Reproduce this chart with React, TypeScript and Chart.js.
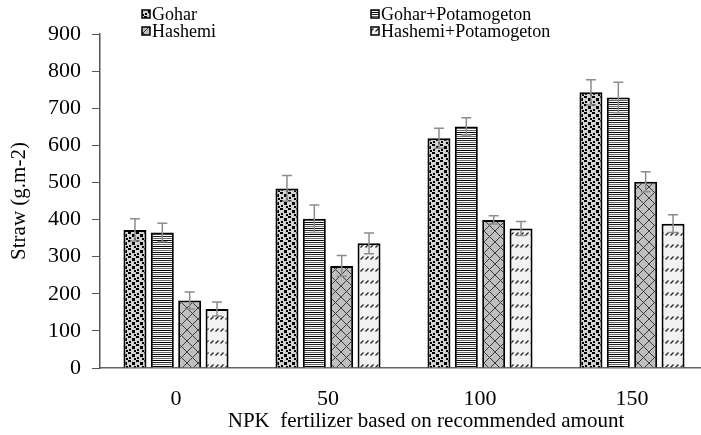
import React, { useEffect, useRef } from "react";
import { Chart, registerables } from "chart.js";

Chart.register(...registerables);

const categories = ["0", "50", "100", "150"];
const seriesNames = ["Gohar", "Gohar+Potamogeton", "Hashemi", "Hashemi+Potamogeton"];
const gohar = [372, 484, 619, 743];
const goharPot = [365, 402, 651, 729];
const hashemi = [182, 275, 399, 502];
const hashemiPot = [159, 336, 376, 389];
const goharErr = [30, 35, 27, 34];
const goharPotErr = [25, 37, 23, 41];
const hashemiErr = [23, 28, 11, 27];
const hashemiPotErr = [19, 28, 19, 24];
const yTicks = [0, 100, 200, 300, 400, 500, 600, 700, 800, 900];
const xTitle = "NPK  fertilizer based on recommended amount";
const yTitle = "Straw (g.m-2)";

const FONT = '"Liberation Serif", "Times New Roman", serif';

function makeTile(w: number, h: number, draw: (c: CanvasRenderingContext2D) => void) {
  const cv = document.createElement("canvas");
  cv.width = w;
  cv.height = h;
  const c = cv.getContext("2d")!;
  draw(c);
  return cv;
}

function makePatterns(ctx: CanvasRenderingContext2D): CanvasPattern[] {
  const confetti = makeTile(8, 8, (c) => {
    c.fillStyle = "#d2d2d2";
    c.fillRect(0, 0, 8, 8);
    c.fillStyle = "#000";
    c.fillRect(0, 0, 3, 2);
    c.fillRect(4, 2, 3, 3);
    c.fillRect(1, 5, 2, 2);
    c.fillRect(6, 6, 2, 2);
  });
  const horiz = makeTile(4, 6, (c) => {
    c.fillStyle = "#fff";
    c.fillRect(0, 0, 4, 6);
    c.fillStyle = "#000";
    c.fillRect(0, 0, 4, 1);
    c.fillStyle = "#222";
    c.fillRect(0, 2, 4, 1);
    c.fillStyle = "#666";
    c.fillRect(0, 4, 4, 1);
  });
  const lattice = makeTile(11, 11, (c) => {
    c.fillStyle = "#bfbfbf";
    c.fillRect(0, 0, 11, 11);
    c.strokeStyle = "#3a3a3a";
    c.lineWidth = 1;
    c.beginPath();
    c.moveTo(-1, -1);
    c.lineTo(12, 12);
    c.moveTo(12, -1);
    c.lineTo(-1, 12);
    c.stroke();
  });
  const dashes = makeTile(5, 12, (c) => {
    c.fillStyle = "#f2f2f2";
    c.fillRect(0, 0, 5, 12);
    c.strokeStyle = "#222";
    c.lineWidth = 1.2;
    c.beginPath();
    c.moveTo(0.5, 7.5);
    c.lineTo(3.5, 4.5);
    c.stroke();
  });
  return [confetti, horiz, lattice, dashes].map((t) => ctx.createPattern(t, "repeat")!);
}

const errorBarPlugin = {
  id: "errorBars",
  afterDatasetsDraw(chart: any) {
    const ctx = chart.ctx;
    const yScale = chart.scales.y;
    ctx.save();
    ctx.strokeStyle = "#8c8c8c";
    ctx.lineWidth = 1.5;
    chart.data.datasets.forEach((ds: any, i: number) => {
      const meta = chart.getDatasetMeta(i);
      meta.data.forEach((el: any, j: number) => {
        const v = ds.data[j];
        const e = ds.errors[j];
        const yT = yScale.getPixelForValue(v + e);
        const yB = yScale.getPixelForValue(v - e);
        const x = el.x;
        const cap = 5;
        ctx.beginPath();
        ctx.moveTo(x, yT);
        ctx.lineTo(x, yB);
        ctx.moveTo(x - cap, yT);
        ctx.lineTo(x + cap, yT);
        ctx.moveTo(x - cap, yB);
        ctx.lineTo(x + cap, yB);
        ctx.stroke();
      });
    });
    ctx.restore();
  },
};

const legendPlugin = {
  id: "customLegend",
  afterDraw(chart: any) {
    const ctx = chart.ctx;
    const pos = [
      { x: 142, y: 14 },
      { x: 371, y: 14 },
      { x: 142, y: 31 },
      { x: 371, y: 31 },
    ];
    ctx.save();
    ctx.font = "18px " + FONT;
    ctx.textBaseline = "middle";
    chart.data.datasets.forEach((ds: any, i: number) => {
      const p = pos[i];
      ctx.fillStyle = ds.backgroundColor;
      ctx.fillRect(p.x, p.y - 4, 8, 8);
      ctx.strokeStyle = "#000";
      ctx.lineWidth = 1.5;
      ctx.strokeRect(p.x, p.y - 4, 8, 8);
      ctx.fillStyle = "#000";
      ctx.fillText(ds.label, p.x + 10, p.y + 1);
    });
    ctx.font = "21px " + FONT;
    ctx.textAlign = "center";
    ctx.fillText(xTitle, 426, 421);
    ctx.restore();
  },
};

export default function App() {
  const ref = useRef<HTMLCanvasElement>(null);
  useEffect(() => {
    const canvas = ref.current!;
    const ctx = canvas.getContext("2d")!;
    const pats = makePatterns(ctx);
    const values = [gohar, goharPot, hashemi, hashemiPot];
    const errs = [goharErr, goharPotErr, hashemiErr, hashemiPotErr];
    const chart = new Chart(canvas, {
      type: "bar",
      data: {
        labels: categories,
        datasets: seriesNames.map((name, i) => ({
          label: name,
          data: values[i],
          errors: errs[i],
          backgroundColor: pats[i] as any,
          borderColor: "#000",
          borderWidth: 2,
          categoryPercentage: 0.72,
          barPercentage: 0.84,
        })) as any,
      },
      options: {
        responsive: false,
        animation: false,
        layout: { padding: { top: 34, right: 2, left: 0, bottom: 0 } },
        plugins: { legend: { display: false }, tooltip: { enabled: false } },
        scales: {
          x: {
            grid: { display: true, drawOnChartArea: false, drawTicks: false },
            border: { color: "#666", width: 1.5 },
            ticks: { font: { family: FONT, size: 22 }, color: "#000", padding: 18 },
            title: { display: false },
            afterFit: (s: any) => {
              s.height = 67;
            },
          },
          y: {
            min: 0,
            max: 900,
            afterBuildTicks: (s: any) => {
              s.ticks = yTicks.map((v) => ({ value: v }));
            },
            grid: { display: true, drawOnChartArea: false, tickLength: 8, color: "#555" },
            border: { color: "#555", width: 1.5 },
            ticks: { font: { family: FONT, size: 22 }, color: "#000", padding: 11 },
            title: {
              display: true,
              text: yTitle,
              font: { family: FONT, size: 21 },
              color: "#000",
              padding: { top: 7, bottom: 0 },
            },
            afterFit: (s: any) => {
              s.width = 100;
            },
          },
        },
      } as any,
      plugins: [errorBarPlugin, legendPlugin],
    });
    return () => chart.destroy();
  }, []);
  return (
    <div style={{ position: "fixed", left: 0, top: 0, width: 701, height: 435, overflow: "hidden", background: "#fff" }}>
      <canvas ref={ref} width={710} height={435} style={{ display: "block" }} />
    </div>
  );
}
